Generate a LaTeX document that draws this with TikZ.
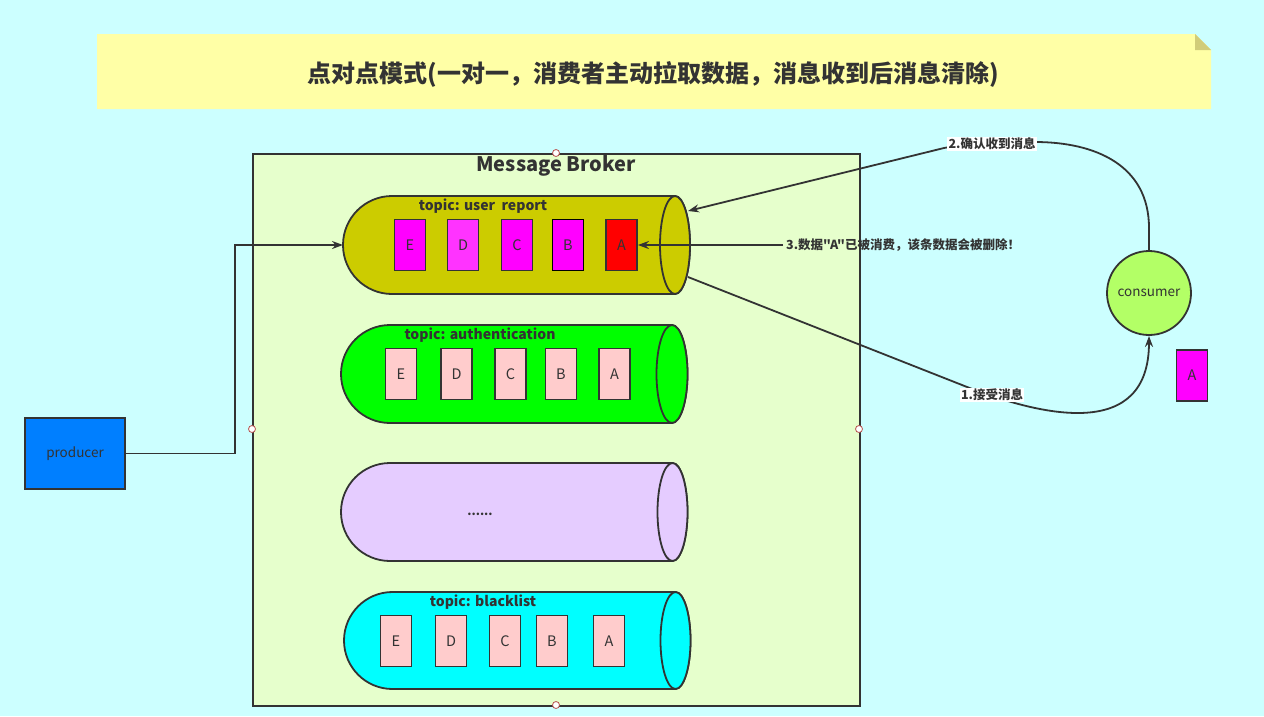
\documentclass[tikz,border=0pt]{standalone}
\usepackage{fontspec}
\setmainfont{Noto Sans CJK SC}[Ligatures=TeXOff]
\usetikzlibrary{arrows.meta}
\definecolor{bg}{HTML}{CCFFFF}
\definecolor{notefill}{HTML}{FFFFA6}
\definecolor{notefold}{HTML}{D1CC79}
\definecolor{brokerfill}{HTML}{E6FFCC}
\definecolor{line}{HTML}{333333}
\definecolor{txt}{HTML}{333333}
\definecolor{cylA}{HTML}{CCCC00}
\definecolor{cylB}{HTML}{00FF00}
\definecolor{cylC}{HTML}{E5CCFF}
\definecolor{cylD}{HTML}{00FFFF}
\definecolor{pinkbox}{HTML}{FFCCCC}
\definecolor{mag}{HTML}{FF00FF}
\definecolor{magl}{HTML}{FF33FF}
\definecolor{redbox}{HTML}{FF0000}
\definecolor{prodfill}{HTML}{007FFF}
\definecolor{consfill}{HTML}{B3FF66}
\definecolor{handle}{HTML}{B85450}
\newcommand\mycyl[7]{%
  \filldraw[cylline, fill=#6] ({#4},{#2-#3}) -- ({#1+#3},{#2-#3})
     arc[start angle=270, end angle=90, radius=#3] -- ({#4},{#2+#3})
     arc[start angle=90, end angle=-90, x radius=#5, y radius=#3] -- cycle;
  \filldraw[cylline, fill=#6] ({#4},{#2}) ellipse[x radius=#5, y radius=#3];
  \coordinate (#7w) at ({#1},{#2});
}
\begin{document}
\begin{tikzpicture}[x=1pt,y=-1pt,
  cylline/.style={draw=line, line width=1.8pt},
  msg/.style={draw=line, line width=1.8pt, minimum width=31pt, minimum height=51pt,
              inner sep=0pt, font=\fontsize{14.5}{16}\selectfont, text=txt},
  conn/.style={draw=line, line width=1.8pt, -{Stealth[length=11pt,width=8pt]}},
  topiclbl/.style={font=\bfseries\fontsize{14}{16}\selectfont, text=txt, inner sep=0pt},
  edgelbl/.style={font=\bfseries\fontsize{12.5}{14}\selectfont, text=txt, inner sep=1.2pt},
  hdl/.style={draw=handle, fill=white, line width=0.8pt}]
\useasboundingbox (0,0) rectangle (1264,716);
\fill[bg] (0,0) rectangle (1264,716);

% note
\fill[notefill] (97,34) -- (1195,34) -- (1211,50) -- (1211,109) -- (97,109) -- cycle;
\fill[notefold] (1195,34) -- (1195,50) -- (1211,50) -- cycle;
\node[font=\bfseries\fontsize{24}{28}\selectfont, text=txt] (title) at (653,74)
  {点对点模式(一对一，消费者主动拉取数据，消息收到后消息清除)};

% broker
\node[draw=line, line width=1.8pt, fill=brokerfill, minimum width=607pt, minimum height=552pt,
      inner sep=0pt, anchor=north west] (broker) at (252,153) {};
\node[font=\bfseries\fontsize{20}{24}\selectfont, text=txt] (brokerlbl) at (556,166) {Message Broker};

% cylinders
\mycyl{343}{245}{49}{675}{15}{cylA}{c1}
\coordinate (c1ne) at (688,211);
\coordinate (c1se) at (688,277);
\mycyl{341}{374}{49}{672}{15.5}{cylB}{c2}
\mycyl{341}{512}{49}{672.5}{15}{cylC}{c3}
\mycyl{344}{640.5}{48.5}{675.5}{15}{cylD}{c4}

\node[topiclbl] (t1) at (483,206) {topic: user\ \ report};
\node[topiclbl] (t2) at (480,335) {topic: authentication};
\node[font=\bfseries\fontsize{12}{14}\selectfont, text=txt] (t3) at (480,514) {......};
\node[topiclbl] (t4) at (483,602) {topic: blacklist};

% boxes topic 1
\node[msg, fill=mag] (E1) at (410,245) {E};
\node[msg, fill=magl] (D1) at (463,245) {D};
\node[msg, fill=mag] (C1) at (517,245) {C};
\node[msg, fill=mag, draw=black] (B1) at (568,245) {B};
\node[msg, fill=redbox] (A1) at (621.5,245) {A};
% boxes topic 2
\node[msg, fill=pinkbox] (E2) at (401,374) {E};
\node[msg, fill=pinkbox] (D2) at (456.5,374) {D};
\node[msg, fill=pinkbox] (C2) at (510.5,374) {C};
\node[msg, fill=pinkbox] (B2) at (561,374) {B};
\node[msg, fill=pinkbox] (A2) at (614.5,374) {A};
% boxes topic 4
\node[msg, fill=pinkbox] (E4) at (396,641) {E};
\node[msg, fill=pinkbox] (D4) at (451,641) {D};
\node[msg, fill=pinkbox] (C4) at (505,641) {C};
\node[msg, fill=pinkbox] (B4) at (552,641) {B};
\node[msg, fill=pinkbox] (A4) at (609,641) {A};

% handles
\draw[hdl] (556,153) circle[radius=3.5];
\draw[hdl] (252,429) circle[radius=3.5];
\draw[hdl] (859,429) circle[radius=3.5];
\draw[hdl] (556,705) circle[radius=3.5];

% producer
\node[draw=line, line width=1.8pt, fill=prodfill, minimum width=100pt, minimum height=71pt,
      inner sep=0pt, font=\fontsize{13.5}{15}\selectfont, text=txt] (producer) at (75,453.5) {producer};
\draw[conn] (producer.east) -- (235,453.5) |- (c1w);

% consumer
\node[draw=line, line width=1.8pt, fill=consfill, circle, minimum size=84pt, inner sep=0pt,
      font=\fontsize{13.5}{15}\selectfont, text=txt] (consumer) at (1149,293) {consumer};
\node[msg, fill=mag] (Ac) at (1192,375.5) {A};

% connectors
\draw[conn] (c1se) -- (962,385) .. controls (1045,418) and (1149,440) .. (consumer.south);
\node[edgelbl, fill=white] (l1) at (992,395) {1.接受消息};

\draw[conn] (consumer.north) -- (1149,228) .. controls (1149,165) and (1095,142) .. (1035,142)
   .. controls (990,142) and (960,145) .. (944,148) -- (c1ne);
\node[edgelbl, fill=white] (l2) at (992,144) {2.确认收到消息};

\node[edgelbl, anchor=west, inner sep=3pt] (l3) at (783,245) {3.数据"A"已被消费，该条数据会被删除！};
\draw[conn] (l3.west) -- (A1.east);
\end{tikzpicture}
\end{document}
